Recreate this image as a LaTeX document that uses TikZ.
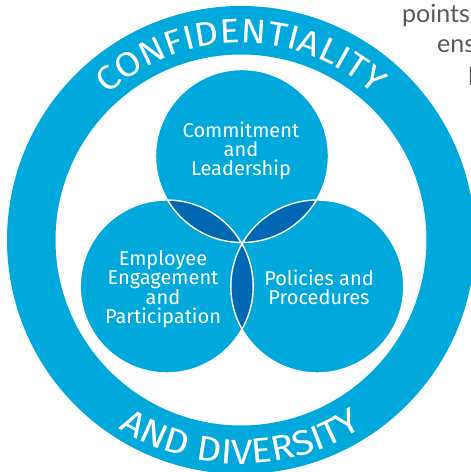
\documentclass[tikz,border=0pt]{standalone}
\usepackage{fontspec}
\setmainfont{Fira Sans}
\newfontfamily\graytxt{Lato}
\newfontfamily\arcfont{Fira Sans}[FakeStretch=1.1]
\usetikzlibrary{decorations.text}
\definecolor{ringblue}{HTML}{00A8DC}
\definecolor{lensblue}{HTML}{0067B3}
\definecolor{txtgray}{HTML}{58595B}
\begin{document}
\begin{tikzpicture}[x=1pt,y=1pt,
  lbl/.style={text=white, align=center, font=\fontsize{20}{19}\selectfont, inner sep=0pt},
  frag/.style={text=txtgray, font=\graytxt\fontsize{25}{25}\selectfont, inner sep=0pt, anchor=base west},
  rim/.style={draw=white, line width=1.4pt}]
\useasboundingbox (0,0) rectangle (471,472);
\clip (0,0) rectangle (471,472);
\coordinate (rc) at (241,232);
\fill[ringblue, even odd rule] (rc) circle (234) (rc) circle (185.5);
\coordinate (cT) at (242,316);
\coordinate (cL) at (166.7,185.5);
\coordinate (cR) at (317.3,185.5);
\def\rr{86.5}
\fill[ringblue] (cT) circle (\rr) (cL) circle (\rr) (cR) circle (\rr);
\begin{scope}
  \clip (cT) circle (\rr);
  \fill[lensblue] (cL) circle (\rr) (cR) circle (\rr);
\end{scope}
\begin{scope}
  \clip (cL) circle (\rr);
  \fill[lensblue] (cR) circle (\rr);
\end{scope}
\draw[rim] (cT) circle (\rr) (cL) circle (\rr) (cR) circle (\rr);
\node[lbl] (commit) at (241,321) {Commitment\\and\\Leadership};
\node[lbl] (employee) at (163,182.5) {Employee\\Engagement\\and\\Participation};
\node[lbl] (policies) at (319,184.5) {Policies and\\Procedures};
\path[decorate, decoration={text along path, text align=center, text color=white,
  text={|\arcfont\fontsize{34}{34}\selectfont|CONFIDENTIALITY}}]
  ([shift={(180:197)}]rc) arc[start angle=180, end angle=0, radius=197];
\path[decorate, decoration={text along path, text align=center, text color=white,
  text={|\arcfont\fontsize{35}{35}\selectfont|AND DIVERSITY}}]
  ([shift={(180:224)}]rc) arc[start angle=180, end angle=360, radius=224];
\node[frag] (pts) at (402,449) {points};
\node[frag] (ens) at (437,419) {ens};
\node[frag] (frag3) at (468,386) {l};
\end{tikzpicture}
\end{document}
